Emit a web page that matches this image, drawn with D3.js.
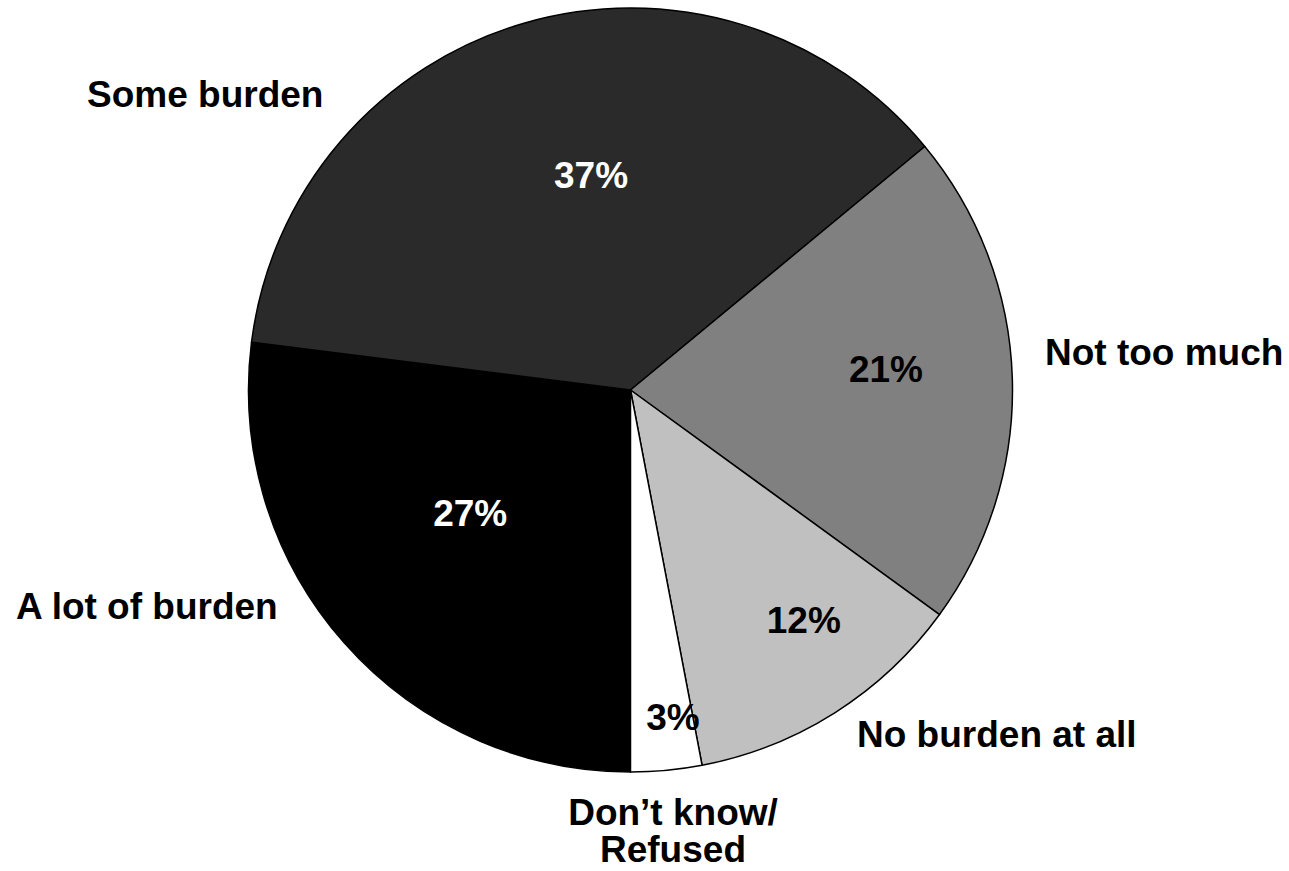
<!DOCTYPE html>
<html>
<head>
<meta charset="utf-8">
<script src="https://cdn.jsdelivr.net/npm/d3@7"></script>
<style>
  html, body { margin: 0; padding: 0; background: #fff; }
  svg { display: block; }
  text { font-family: "Liberation Sans", Arial, sans-serif; font-weight: bold; }
</style>
</head>
<body>
<svg id="chart" width="1289" height="871"></svg>
<script>
// Data
const categories = ["A lot of burden", "Some burden", "Not too much", "No burden at all", "Don\u2019t know/\nRefused"];
const values = [27, 37, 21, 12, 3];
const valueLabels = ["27%", "37%", "21%", "12%", "3%"];
const colors = ["#000000", "#2a2a2a", "#808080", "#c0c0c0", "#ffffff"];
const pctColors = ["#ffffff", "#ffffff", "#000000", "#000000", "#000000"];

// Layout (not data)
const W = 1289, H = 871;
const cx = 630.5, cy = 390, R = 382;
const fontSize = 37;
// percent label placement: [radius fraction, angle offset in deg] relative to slice centroid direction
const pctOffsets = [[0.529, 3.9], [0.572, 5.8], [0.671, -3.0], [0.754, -4.6], [0.863, -2.0]];
// category label anchors
const catPos = [
  {x: 16, y: 619, anchor: "start"},
  {x: 87, y: 107, anchor: "start"},
  {x: 1045, y: 365, anchor: "start"},
  {x: 857, y: 747, anchor: "start"},
  {x: 673, y: 825, anchor: "middle"}
];
const lineGap = 37;

const svg = d3.select("#chart");
const g = svg.append("g").attr("transform", `translate(${cx},${cy})`);

const pie = d3.pie().sort(null).value(d => d)
  .startAngle(Math.PI).endAngle(3 * Math.PI);
const arcs = pie(values);
const arc = d3.arc().innerRadius(0).outerRadius(R);

g.selectAll("path.slice")
  .data(arcs)
  .enter().append("path")
  .attr("class", "slice")
  .attr("d", arc)
  .attr("fill", (d, i) => colors[i])
  .attr("stroke", "#000")
  .attr("stroke-width", 1.5)
  .attr("stroke-linejoin", "round");

function labelPoint(d, i) {
  const a = (d.startAngle + d.endAngle) / 2 + pctOffsets[i][1] * Math.PI / 180;
  const r = R * pctOffsets[i][0];
  return [Math.sin(a) * r, -Math.cos(a) * r];
}

// percent labels
g.selectAll("text.pct")
  .data(arcs)
  .enter().append("text")
  .attr("class", "pct")
  .attr("x", (d, i) => labelPoint(d, i)[0])
  .attr("y", (d, i) => labelPoint(d, i)[1])
  .attr("dy", "0.35em")
  .attr("text-anchor", "middle")
  .attr("font-size", fontSize)
  .attr("fill", (d, i) => pctColors[i])
  .text((d, i) => valueLabels[i]);

// category labels
categories.forEach((c, i) => {
  const t = svg.append("text")
    .attr("x", catPos[i].x)
    .attr("y", catPos[i].y)
    .attr("text-anchor", catPos[i].anchor)
    .attr("font-size", fontSize)
    .attr("fill", "#000");
  c.split("\n").forEach((line, j) => {
    t.append("tspan").attr("x", catPos[i].x).attr("dy", j === 0 ? 0 : lineGap).text(line);
  });
});
</script>
</body>
</html>
